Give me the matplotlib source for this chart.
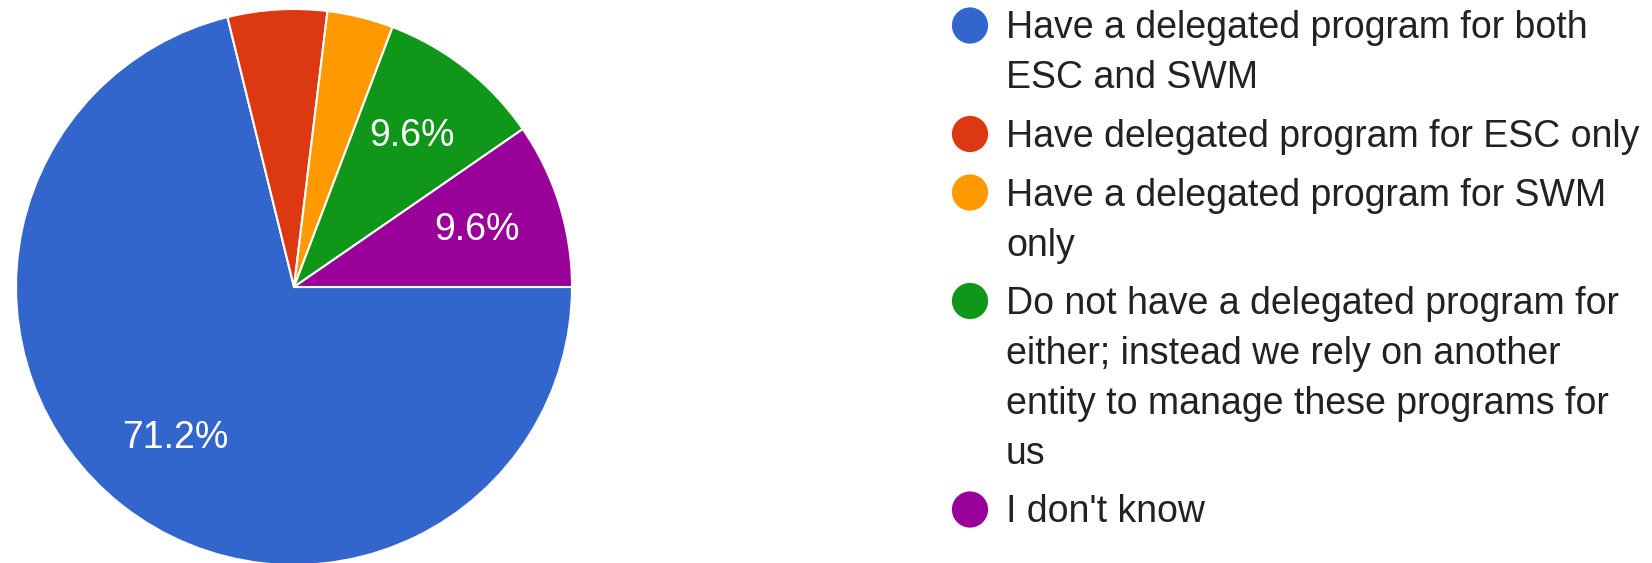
import numpy as np
import matplotlib
matplotlib.use("Agg")
import matplotlib.pyplot as plt

plt.rcParams["font.family"] = ["Liberation Sans", "DejaVu Sans"]

# survey answers (52 responses), legend order
labels = [
    "Have a delegated program for both\nESC and SWM",
    "Have delegated program for ESC only",
    "Have a delegated program for SWM\nonly",
    "Do not have a delegated program for\neither; instead we rely on another\nentity to manage these programs for\nus",
    "I don't know",
]
counts = [37, 3, 2, 5, 5]
colors = ["#3366CC", "#DC3912", "#FF9900", "#109618", "#990099"]

W, H = 1652, 563
fig = plt.figure(figsize=(W / 100, H / 100), dpi=100)

# pie: centre (294, 287) px, radius 278 px
cx, cy, r = 294, 287, 278
ax = fig.add_axes([(cx - r) / W, (H - cy - r) / H, 2 * r / W, 2 * r / H])
ax.pie(counts, colors=colors, startangle=0, counterclock=False,
       autopct=lambda p: f"{p:.1f}%" if p > 9 else "", pctdistance=0.69,
       wedgeprops=dict(edgecolor="white", linewidth=1.5),
       textprops=dict(color="white", fontsize=27))
ax.set_xlim(-1, 1)
ax.set_ylim(-1, 1)
ax.axis("off")

# legend drawn in pixel coordinates
lg = fig.add_axes([0, 0, 1, 1])
lg.set_xlim(0, W)
lg.set_ylim(H, 0)
lg.axis("off")
y = 38.5
for lab, col in zip(labels, colors):
    lg.scatter([970], [y - 13], s=680, color=col, edgecolors="none")
    for line in lab.split("\n"):
        lg.text(1006, y, line, fontsize=27, color="#222222", va="baseline", ha="left")
        y += 50
    y += 8.5

fig.savefig("out.png", dpi=100)
